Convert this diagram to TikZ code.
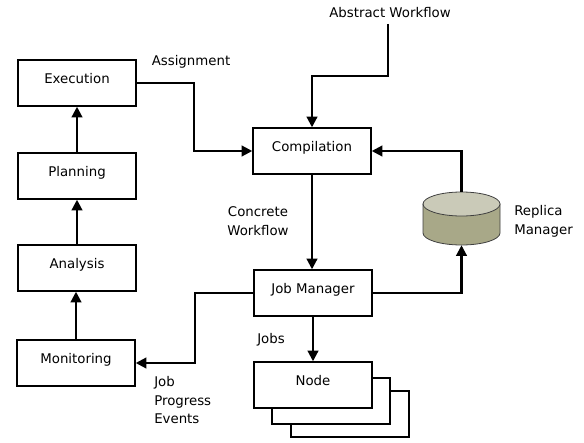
\documentclass[tikz,border=0pt]{standalone}
\usepackage{fontspec}
\setmainfont{DejaVu Sans}
\usepackage{tikz}
\usepackage{xcolor}
\usetikzlibrary{arrows.meta,positioning}

\definecolor{cyltop}{RGB}{202,202,184}
\definecolor{cylbody}{RGB}{168,168,136}

\tikzset{
	box/.style={draw, fill=white, line width=1.6pt, minimum width=88pt, minimum height=34pt,
		text height=7pt, text depth=6pt, font=\fontsize{10}{12}\selectfont},
	flow/.style={line width=1.6pt, -{Triangle[length=8pt,width=8pt]}},
	lbl/.style={font=\fontsize{10}{14}\selectfont, inner sep=0pt},
	store/.style={minimum width=57.75pt, minimum height=39.75pt, inner sep=0pt},
	cyl/.style={draw=black!75, line width=0.6pt}
}

\begin{document}
\begin{tikzpicture}[x=0.75pt,y=-0.75pt]

		\useasboundingbox (0,0) rectangle (584,442);

		% left column
		\node[box] (exe) at (77,83) {Execution};
		\node[box] (plan) at (77,176) {Planning};
		\node[box] (ana) at (77,268) {Analysis};
		\node[box] (mon) at (76,363) {Monitoring};

		% middle column
		\node[box] (comp) at (312,151) {Compilation};
		\node[box] (jm) at (313,293) {Job Manager};
		\node[box] (n3) at (350,414) {};
		\node[box] (n2) at (331,401) {};
		\node[box] (node) at (313,385) {Node};

		% replica store
		\node[store] (rm) at (461.5,218.5) {};
		\filldraw[cyl, fill=cylbody] (rm.center) ++(-38.5,-14.5) -- ++(0,29)
			arc (180:0:38.5 and 12) -- ++(0,-29) -- cycle;
		\filldraw[cyl, fill=cyltop] (rm.center) ++(0,-14.5) ellipse (38.5 and 12);

		% labels
		\node[lbl] (aw) at (390,13) {Abstract Workflow};
		\node[lbl] at (191,62) {Assignment};
		\node[lbl, align=center] at (258,221) {Concrete\\Workflow};
		\node[lbl, anchor=west, align=left] at (514,221) {Replica\\Manager};
		\node[lbl] at (271,340) {Jobs};
		\node[lbl, anchor=north west, align=left] at (154,376) {Job\\Progress\\Events};

		% connectors
		\draw[flow] (388,24) -- (388,76) -| (comp.north);
		\draw[flow] (exe.east) -- ++(57,0) |- (comp.west);
		\draw[flow] (plan.north) -- (exe.south);
		\draw[flow] (ana.north) -- (plan.south);
		\draw[flow] (mon.north) -- (mon.north |- ana.south);
		\draw[flow] (comp.south) -- (comp.south |- jm.north);
		\draw[flow] (jm.east) -| (rm.south);
		\draw[flow] (rm.north) |- (comp.east);
		\draw[flow] (jm.west) -- ++(-58,0) |- (mon.east);
		\draw[flow] (jm.south) -- (node.north);

\end{tikzpicture}
\end{document}
